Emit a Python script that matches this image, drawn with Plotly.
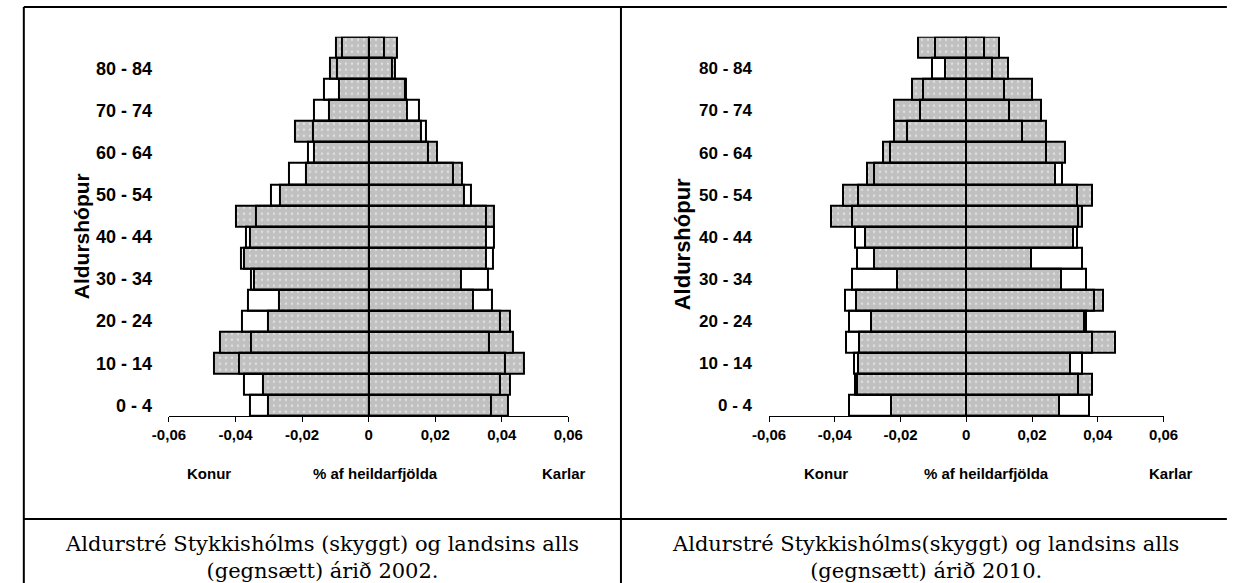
import plotly.graph_objects as go

# ---- data (age groups bottom -> top) ----
age_groups = ["0 - 4", "5 - 9", "10 - 14", "15 - 19", "20 - 24", "25 - 29", "30 - 34",
              "35 - 39", "40 - 44", "45 - 49", "50 - 54", "55 - 59", "60 - 64",
              "65 - 69", "70 - 74", "75 - 79", "80 - 84", "85+"]
shown_age_labels = ["0 - 4", "10 - 14", "20 - 24", "30 - 34", "40 - 44",
                    "50 - 54", "60 - 64", "70 - 74", "80 - 84"]

# 2002: Stykkishólmur (shaded) and whole country (transparent)
women_2002_town = [-0.0302, -0.0318, -0.0465, -0.0448, -0.0302, -0.0270, -0.0346, -0.0376, -0.0358,
                   -0.0400, -0.0268, -0.0187, -0.0164, -0.0220, -0.0120, -0.0088, -0.0115, -0.0099]
women_2002_nat = [-0.0356, -0.0376, -0.0391, -0.0353, -0.0380, -0.0363, -0.0353, -0.0383, -0.0370,
                  -0.0338, -0.0295, -0.0240, -0.0182, -0.0167, -0.0165, -0.0134, -0.0096, -0.0080]
men_2002_town = [0.0419, 0.0426, 0.0467, 0.0434, 0.0426, 0.0312, 0.0278, 0.0351, 0.0351,
                 0.0377, 0.0287, 0.0279, 0.0206, 0.0157, 0.0115, 0.0110, 0.0080, 0.0085]
men_2002_nat = [0.0366, 0.0394, 0.0411, 0.0361, 0.0394, 0.0370, 0.0357, 0.0372, 0.0376,
                0.0353, 0.0308, 0.0252, 0.0177, 0.0171, 0.0151, 0.0113, 0.0069, 0.0045]

# 2010
women_2010_town = [-0.0228, -0.0333, -0.0329, -0.0326, -0.0290, -0.0334, -0.0212, -0.0282, -0.0308,
                   -0.0411, -0.0375, -0.0301, -0.0254, -0.0219, -0.0219, -0.0164, -0.0064, -0.0148]
women_2010_nat = [-0.0357, -0.0337, -0.0340, -0.0365, -0.0358, -0.0370, -0.0347, -0.0331, -0.0337,
                  -0.0349, -0.0328, -0.0282, -0.0232, -0.0179, -0.0141, -0.0132, -0.0103, -0.0095]
men_2010_town = [0.0281, 0.0381, 0.0316, 0.0453, 0.0357, 0.0416, 0.0289, 0.0198, 0.0324,
                 0.0351, 0.0381, 0.0269, 0.0299, 0.0242, 0.0226, 0.0199, 0.0126, 0.0100]
men_2010_nat = [0.0374, 0.0340, 0.0351, 0.0383, 0.0363, 0.0389, 0.0363, 0.0351, 0.0338,
                0.0341, 0.0336, 0.0290, 0.0242, 0.0171, 0.0130, 0.0114, 0.0078, 0.0053]

x_tick_vals = [-0.06, -0.04, -0.02, 0, 0.02, 0.04, 0.06]
x_tick_text = ["-0,06", "-0,04", "-0,02", "0", "0,02", "0,04", "0,06"]

captions = ["Aldurstré Stykkishólms (skyggt) og landsins alls<br>(gegnsætt) árið 2002.",
            "Aldurstré Stykkishólms(skyggt) og landsins alls<br>(gegnsætt) árið 2010."]

W, H = 1237, 583
SANS = "Liberation Sans"
SERIF = "DejaVu Serif"


def px(x):
    return x / W


def py(y):
    return 1 - y / H


fig = go.Figure()

shaded = dict(color="#c0c0c0",
              pattern=dict(shape=".", fgcolor="white", bgcolor="#c0c0c0", size=6, solidity=0.14),
              line=dict(color="black", width=2))
clear = dict(color="rgba(0,0,0,0)", line=dict(color="black", width=2))

panels = [
    ("x", "y", women_2002_town, men_2002_town, women_2002_nat, men_2002_nat),
    ("x2", "y2", women_2010_town, men_2010_town, women_2010_nat, men_2010_nat),
]
for xa, ya, wt, mt, wn, mn in panels:
    for vals in (wt, mt):
        fig.add_trace(go.Bar(y=age_groups, x=vals, orientation="h", marker=shaded,
                             xaxis=xa, yaxis=ya, showlegend=False))
    for vals in (wn, mn):
        fig.add_trace(go.Bar(y=age_groups, x=vals, orientation="h", marker=clear,
                             xaxis=xa, yaxis=ya, showlegend=False))

plot_top, plot_bottom = 36.7, 416
xcommon = dict(range=[-0.06, 0.06], tickvals=x_tick_vals, ticktext=x_tick_text,
               showgrid=False, zeroline=True, zerolinecolor="black", zerolinewidth=2,
               showline=True, linecolor="black", linewidth=1,
               ticks="outside", ticklen=5, tickwidth=1, tickcolor="black",
               tickfont=dict(family=SANS, size=15, color="black", weight="bold"),
               fixedrange=True)
ycommon = dict(type="category", categoryorder="array", categoryarray=age_groups,
               range=[-0.5, 17.5], tickvals=shown_age_labels, showgrid=False,
               zeroline=False, showline=False, ticks="", ticklabelstandoff=16,
               domain=[py(plot_bottom), py(plot_top)], fixedrange=True)

fig.update_layout(
    width=W, height=H, margin=dict(l=0, r=0, t=0, b=0),
    paper_bgcolor="white", plot_bgcolor="rgba(0,0,0,0)",
    barmode="overlay", bargap=0,
    xaxis=dict(domain=[px(156), px(566)], anchor="y", **xcommon),
    xaxis2=dict(domain=[px(772), px(1177)], anchor="y2", **xcommon),
    yaxis=dict(anchor="x", tickfont=dict(family=SANS, size=18, color="black", weight="bold"), **ycommon),
    yaxis2=dict(anchor="x2", tickfont=dict(family=SANS, size=17, color="black", weight="bold"), **ycommon),
)

# table borders
line_style = dict(color="black", width=2)
for x0, y0, x1, y1 in [(7, 7, W + 5, 7), (7, 519, W + 5, 519), (7, 7, 7, H + 5), (620, 7, 620, H + 5)]:
    fig.add_shape(type="line", xref="paper", yref="paper", x0=px(x0), y0=py(y0), x1=px(x1), y1=py(y1),
                  line=line_style)

anns = []
# axis titles
for x, y, size in [(67, 236, 21), (684, 244, 22)]:
    anns.append(dict(x=px(x), y=py(y), text="Aldurshópur", textangle=-90, showarrow=False,
                     xref="paper", yref="paper", xanchor="center", yanchor="middle",
                     font=dict(family=SANS, size=size, color="black", weight="bold")))
# bottom labels
for x, t in [(197, "Konur"), (368, "% af heildarfjölda"), (562, "Karlar"),
             (830, "Konur"), (995, "% af heildarfjölda"), (1185, "Karlar")]:
    anns.append(dict(x=px(x), y=py(473), text=t, showarrow=False, xref="paper", yref="paper",
                     xanchor="center", yanchor="middle",
                     font=dict(family=SANS, size=15, color="black", weight="bold")))
# captions
for x, t in [(313, captions[0]), (933, captions[1])]:
    anns.append(dict(x=px(x), y=py(557), text=t, showarrow=False, xref="paper", yref="paper",
                     xanchor="center", yanchor="middle", align="center",
                     font=dict(family=SERIF, size=21, color="black")))
fig.update_layout(annotations=anns)

fig.write_html("out.html", config={"displayModeBar": False},
               post_script="document.body.style.margin='0';")
